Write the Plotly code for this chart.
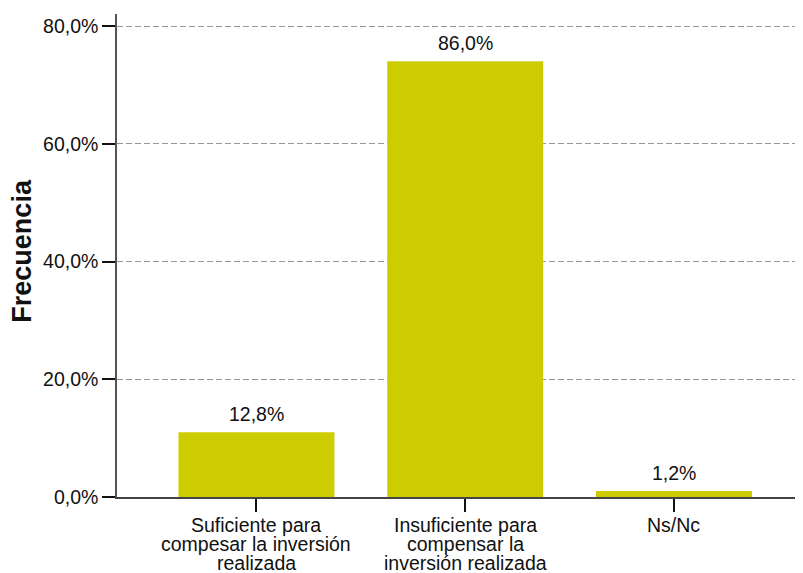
import plotly.graph_objects as go

category_lines = [["Suficiente para", "compesar la inversión", "realizada"],
                  ["Insuficiente para", "compensar la", "inversión realizada"],
                  ["Ns/Nc"]]
counts = [11, 74, 1]
labels = ["12,8%", "86,0%", "1,2%"]
y_tickvals = [0, 20, 40, 60, 80]
y_ticktext = ["0,0%", "20,0%", "40,0%", "60,0%", "80,0%"]

FONT = "Liberation Sans, Arial, Helvetica, sans-serif"
xpos = list(range(len(category_lines)))

fig = go.Figure()
fig.add_trace(go.Bar(x=xpos, y=counts, marker=dict(color="#CCCC00", line=dict(width=0)),
                     width=0.747, hoverinfo="skip"))

for xi, yi, lab in zip(xpos, counts, labels):
    fig.add_annotation(x=xi, y=yi, text=lab, showarrow=False, yanchor="bottom",
                       yshift=5, font=dict(size=19.5, color="#111", family=FONT))

for xi, lines in zip(xpos, category_lines):
    for k, line in enumerate(lines):
        fig.add_annotation(x=xi, xref="x", y=0, yref="paper", text=line,
                           showarrow=False, xanchor="center", yanchor="middle",
                           yshift=-(28 + 19 * k),
                           font=dict(size=19.5, color="#111", family=FONT))

fig.add_annotation(xref="paper", yref="paper", x=0, y=0.51, xshift=-95,
                   text="<b>Frecuencia</b>", textangle=-90, showarrow=False,
                   xanchor="center", yanchor="middle",
                   font=dict(size=27, color="#111", family=FONT))

# page body has an 8px margin; figure is sized so the plot area lands on the reference pixels
fig.update_layout(
    width=795, height=565,
    margin=dict(l=109, r=0, t=6, b=76, autoexpand=False),
    paper_bgcolor="white", plot_bgcolor="white",
    showlegend=False,
    font=dict(family=FONT, color="#111", size=19.5),
    xaxis=dict(range=[-0.668, 2.618], tickvals=xpos, ticktext=["" for _ in xpos],
               automargin=False,
               showgrid=False, zeroline=False, showline=True, linecolor="#444", linewidth=1.5,
               ticks="outside", ticklen=13, tickwidth=2, tickcolor="#111"),
    yaxis=dict(range=[0, 82.04], tickvals=y_tickvals, ticktext=y_ticktext,
               automargin=False,
               showgrid=True, gridcolor="#999", griddash="6px,3px", gridwidth=1,
               zeroline=False, showline=True, linecolor="#555", linewidth=1.5,
               ticks="outside", ticklen=13, tickwidth=2, tickcolor="#111",
               tickfont=dict(size=19.5, family=FONT, color="#111")),
)

fig.write_html("out.html")
